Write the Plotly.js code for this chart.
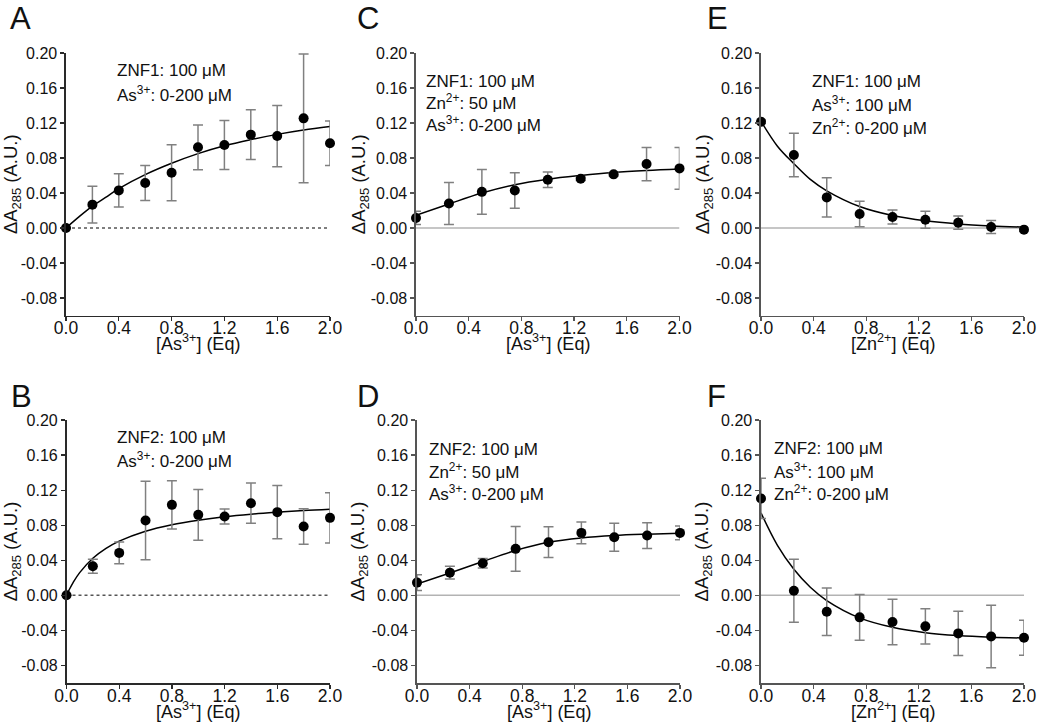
<!DOCTYPE html>
<html>
<head>
<meta charset="utf-8">
<script src="https://cdn.plot.ly/plotly-3.0.1.min.js"></script>
<style>html,body{margin:0;padding:0;background:#fff}#chart{width:1040px;height:723px}</style>
</head>
<body>
<div id="chart"></div>
<script>
// ---------- Data ----------
// Panel A: ZNF1 + As3+
const xA = [0, 0.2, 0.4, 0.6, 0.8, 1.0, 1.2, 1.4, 1.6, 1.8, 2.0];
const yA = [0, 0.0267, 0.043, 0.0514, 0.0632, 0.0922, 0.0949, 0.1067, 0.1051, 0.1253, 0.0968];
const eA = [0, 0.021, 0.019, 0.020, 0.032, 0.0255, 0.028, 0.0285, 0.035, 0.0737, 0.0255];
const fitXA = [0, 0.1, 0.2, 0.3, 0.4, 0.6, 0.8, 1.0, 1.2, 1.4, 1.6, 1.8, 2.0];
const fitYA = [0, 0.013, 0.025, 0.035, 0.045, 0.061, 0.074, 0.085, 0.094, 0.101, 0.107, 0.112, 0.116];

// Panel B: ZNF2 + As3+
const xB = [0, 0.2, 0.4, 0.6, 0.8, 1.0, 1.2, 1.4, 1.6, 1.8, 2.0];
const yB = [0, 0.0331, 0.0484, 0.0853, 0.1032, 0.0918, 0.0899, 0.1051, 0.0949, 0.0785, 0.0884];
const eB = [0, 0.008, 0.0124, 0.0447, 0.0276, 0.029, 0.0086, 0.023, 0.0303, 0.0202, 0.0286];
const fitXB = [0, 0.02, 0.05, 0.1, 0.2, 0.3, 0.4, 0.6, 0.8, 1.0, 1.2, 1.4, 1.6, 1.8, 2.0];
const fitYB = [0, 0.0063, 0.0146, 0.0259, 0.0423, 0.0536, 0.0619, 0.0732, 0.0806, 0.0857, 0.0896, 0.0925, 0.0948, 0.0968, 0.0983];

// Panel C: ZNF1 + Zn2+ (50 uM) + As3+
const xC = [0, 0.25, 0.5, 0.75, 1.0, 1.25, 1.5, 1.75, 2.0];
const yC = [0.0115, 0.028, 0.0413, 0.0429, 0.0551, 0.0563, 0.0613, 0.0731, 0.0681];
const eC = [0.0076, 0.024, 0.0257, 0.0203, 0.0088, 0.002, 0.002, 0.019, 0.0238];
const fitXC = [0, 0.25, 0.5, 0.75, 1.0, 1.25, 1.5, 1.75, 2.0];
const fitYC = [0.0145, 0.0275, 0.040, 0.0495, 0.0557, 0.060, 0.0635, 0.0658, 0.0675];

// Panel D: ZNF2 + Zn2+ (50 uM) + As3+
const xD = [0, 0.25, 0.5, 0.75, 1.0, 1.25, 1.5, 1.75, 2.0];
const yD = [0.0145, 0.0259, 0.0366, 0.053, 0.0606, 0.0712, 0.0663, 0.0682, 0.0712];
const eD = [0.009, 0.0074, 0.0055, 0.0255, 0.0175, 0.0125, 0.016, 0.0147, 0.0078];
const fitXD = [0, 0.25, 0.5, 0.75, 1.0, 1.25, 1.5, 1.75, 2.0];
const fitYD = [0.0128, 0.0255, 0.0385, 0.0512, 0.0605, 0.0655, 0.0683, 0.0698, 0.0708];

// Panel E: ZNF1 + As3+ (100 uM) + Zn2+
const xE = [0, 0.25, 0.5, 0.75, 1.0, 1.25, 1.5, 1.75, 2.0];
const yE = [0.1215, 0.0834, 0.035, 0.016, 0.0126, 0.0095, 0.0061, 0.0011, -0.0019];
const eE = [0.002, 0.0248, 0.0225, 0.0145, 0.008, 0.0097, 0.0075, 0.0075, 0.002];
const fitXE = [0, 0.125, 0.25, 0.375, 0.5, 0.75, 1.0, 1.25, 1.5, 1.75, 2.0];
const fitYE = [0.122, 0.0935, 0.0735, 0.0555, 0.0425, 0.0245, 0.0142, 0.0082, 0.0046, 0.0024, 0.0010];

// Panel F: ZNF2 + As3+ (100 uM) + Zn2+
const xF = [0, 0.25, 0.5, 0.75, 1.0, 1.25, 1.5, 1.75, 2.0];
const yF = [0.1105, 0.0053, -0.0187, -0.0251, -0.0305, -0.0354, -0.0434, -0.0469, -0.0484];
const eF = [0.023, 0.036, 0.0272, 0.026, 0.026, 0.020, 0.0252, 0.0357, 0.020];
const fitXF = [0, 0.125, 0.25, 0.375, 0.5, 0.75, 1.0, 1.25, 1.5, 1.75, 2.0];
const fitYF = [0.094, 0.057, 0.0297, 0.0092, -0.0059, -0.0257, -0.0365, -0.0426, -0.0459, -0.0477, -0.0487];

// Tick labels
const yTickVals = [-0.08, -0.04, 0, 0.04, 0.08, 0.12, 0.16, 0.20];
const yTickText = ['-0.08', '-0.04', '0.00', '0.04', '0.08', '0.12', '0.16', '0.20'];
const xTickVals = [0, 0.4, 0.8, 1.2, 1.6, 2.0];
const xTickText = ['0.0', '0.4', '0.8', '1.2', '1.6', '2.0'];

// Panel labels and conditions text
const panelLetters = ['A', 'C', 'E', 'B', 'D', 'F'];
const condA = ['ZNF1: 100 μM', 'As<sup>3+</sup>: 0-200 μM'];
const condC = ['ZNF1: 100 μM', 'Zn<sup>2+</sup>: 50 μM', 'As<sup>3+</sup>: 0-200 μM'];
const condE = ['ZNF1: 100 μM', 'As<sup>3+</sup>: 100 μM', 'Zn<sup>2+</sup>: 0-200 μM'];
const condB = ['ZNF2: 100 μM', 'As<sup>3+</sup>: 0-200 μM'];
const condD = ['ZNF2: 100 μM', 'Zn<sup>2+</sup>: 50 μM', 'As<sup>3+</sup>: 0-200 μM'];
const condF = ['ZNF2: 100 μM', 'As<sup>3+</sup>: 100 μM', 'Zn<sup>2+</sup>: 0-200 μM'];
const xTitleAs = '[As<sup>3+</sup>] (Eq)';
const xTitleZn = '[Zn<sup>2+</sup>] (Eq)';
const yTitle = 'ΔA<sub>285</sub> (A.U.)';

// ---------- Layout helpers ----------
const W = 1040, H = 723;
const FONT = '"Liberation Sans", Arial, Helvetica, sans-serif';
const px = v => v / W;
const py = v => 1 - v / H;

const panels = [
  {x: xA, y: yA, e: eA, fx: fitXA, fy: fitYA, cond: condA, xt: xTitleAs, dashed: true,
   dom: [66, 330, 53, 315.5], letter: [8, 18], text: [115, 71, 23], ys: 4},
  {x: xC, y: yC, e: eC, fx: fitXC, fy: fitYC, cond: condC, xt: xTitleAs, dashed: false,
   dom: [416, 679.5, 53, 315.5], letter: [355, 18], text: [424, 81, 21.3], ys: 0},
  {x: xE, y: yE, e: eE, fx: fitXE, fy: fitYE, cond: condE, xt: xTitleZn, dashed: false,
   dom: [761, 1024, 53, 315.5], letter: [705, 18], text: [810, 81, 22.8], ys: 1},
  {x: xB, y: yB, e: eB, fx: fitXB, fy: fitYB, cond: condB, xt: xTitleAs, dashed: true,
   dom: [66.5, 330, 420, 683], letter: [9, 396], text: [115, 437, 23], ys: 3},
  {x: xD, y: yD, e: eD, fx: fitXD, fy: fitYD, cond: condD, xt: xTitleAs, dashed: false,
   dom: [417, 680, 420, 683], letter: [355, 396], text: [427, 449, 22], ys: 2},
  {x: xF, y: yF, e: eF, fx: fitXF, fy: fitYF, cond: condF, xt: xTitleZn, dashed: false,
   dom: [761, 1024, 420, 683], letter: [705, 396], text: [772, 448, 22.6], ys: 2}
];

const traces = [];
const layout = {
  width: W, height: H,
  margin: {l: 0, r: 0, t: 0, b: 0, pad: 0},
  paper_bgcolor: '#ffffff', plot_bgcolor: '#ffffff',
  showlegend: false,
  font: {family: FONT, color: '#111111', size: 16},
  annotations: [], shapes: []
};

panels.forEach((p, i) => {
  const n = i + 1;
  const xa = n === 1 ? 'x' : 'x' + n;
  const ya = n === 1 ? 'y' : 'y' + n;
  const xKey = n === 1 ? 'xaxis' : 'xaxis' + n;
  const yKey = n === 1 ? 'yaxis' : 'yaxis' + n;
  const axColor = p.dashed ? '#2a2a2a' : '#555555';

  layout[xKey] = {
    domain: [px(p.dom[0]), px(p.dom[1])], anchor: ya,
    range: [0, 2], fixedrange: true,
    showline: true, linecolor: axColor, linewidth: 1.6, mirror: false,
    showgrid: false, zeroline: false,
    ticks: 'outside', ticklen: 4, tickwidth: 1.2, tickcolor: axColor,
    tickmode: 'array', tickvals: xTickVals, ticktext: xTickText,
    ticklabelstandoff: -8,
    tickfont: {family: FONT, size: 17.5, color: '#111'}
  };
  layout[yKey] = {
    domain: [py(p.dom[3]), py(p.dom[2])], anchor: xa,
    range: [-0.1, 0.2], fixedrange: true,
    showline: true, linecolor: axColor, linewidth: 1.6,
    showgrid: false, zeroline: false,
    ticks: 'outside', ticklen: 4, tickwidth: 1.2, tickcolor: axColor,
    tickmode: 'array', tickvals: yTickVals, ticktext: yTickText,
    tickfont: {family: FONT, size: 16, color: '#111'},
    title: {text: yTitle, font: {family: FONT, size: 18.5, color: '#111'}, standoff: p.ys}
  };

  // baseline at zero
  layout.shapes.push({
    type: 'line', xref: xa, yref: ya, x0: 0, x1: 2, y0: 0, y1: 0, layer: 'below',
    line: p.dashed ? {color: '#555555', width: 1.5, dash: 'dot'} : {color: '#b3b3b3', width: 1.5}
  });

  // fitted curve
  traces.push({
    type: 'scatter', mode: 'lines', x: p.fx, y: p.fy, xaxis: xa, yaxis: ya,
    line: {color: '#000000', width: 1.5, shape: 'spline', smoothing: 1.0},
    hoverinfo: 'skip', cliponaxis: false
  });
  // data points with error bars
  traces.push({
    type: 'scatter', mode: 'markers', x: p.x, y: p.y, xaxis: xa, yaxis: ya,
    marker: {color: '#000000', size: 10, line: {width: 0}},
    error_y: {type: 'data', array: p.e, visible: true, color: '#808080', thickness: 1.5, width: 5},
    cliponaxis: false
  });

  // x-axis title (placed as in the reference, tight under the tick labels)
  layout.annotations.push({
    xref: xa + ' domain', yref: 'paper', x: 0.5, y: py(p.dom[3] + 27),
    xanchor: 'center', yanchor: 'middle', showarrow: false,
    text: p.xt, font: {family: FONT, size: 18, color: '#111'}
  });

  // panel letter
  layout.annotations.push({
    xref: 'paper', yref: 'paper', x: px(p.letter[0]), y: py(p.letter[1]),
    xanchor: 'left', yanchor: 'middle', showarrow: false,
    text: panelLetters[i], font: {family: FONT, size: 31, color: '#111'}
  });
  // conditions
  p.cond.forEach((t, k) => {
    layout.annotations.push({
      xref: 'paper', yref: 'paper', x: px(p.text[0]), y: py(p.text[1] + k * p.text[2]),
      xanchor: 'left', yanchor: 'middle', showarrow: false,
      text: t, font: {family: FONT, size: 17, color: '#111'}
    });
  });
});

Plotly.newPlot('chart', traces, layout, {staticPlot: true, displayModeBar: false});
</script>
</body>
</html>
